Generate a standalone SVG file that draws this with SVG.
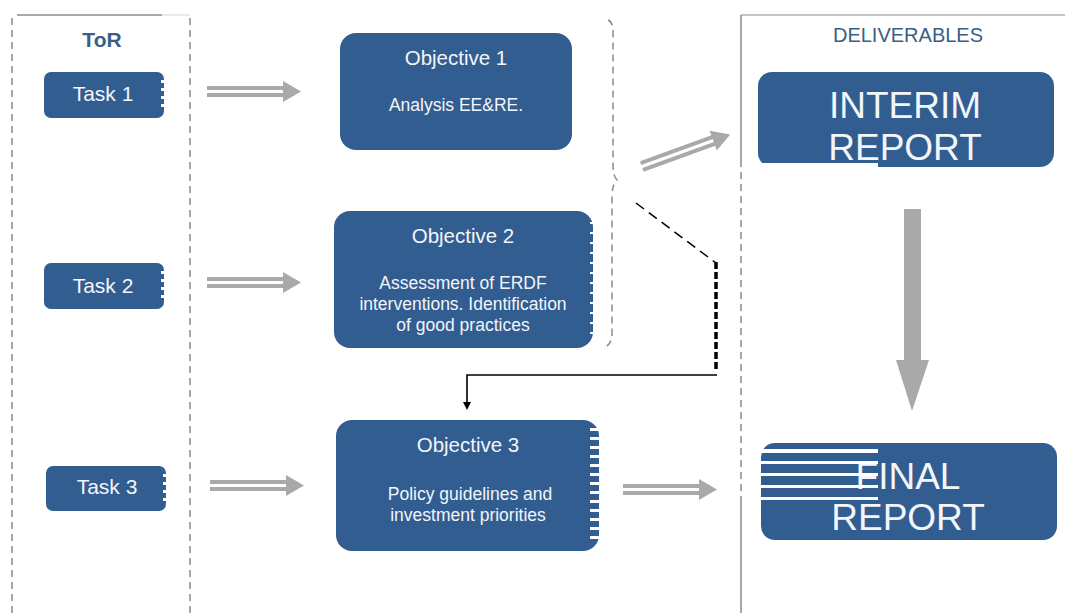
<svg xmlns="http://www.w3.org/2000/svg" width="1065" height="613" viewBox="0 0 1065 613">
<defs>
<style>
.node{fill:#325d90}
.t{font-family:"Liberation Sans",Arial,sans-serif;fill:#f2f5f9;text-anchor:middle}
.task{font-size:21px}
.obj{font-size:20.5px}
.sub{font-size:17.5px}
.big{font-size:37px}
.hdr{font-family:"Liberation Sans",Arial,sans-serif;text-anchor:middle;fill:#3a5f86}
.frame{stroke:#8a8a8a;stroke-width:1.5;fill:none;stroke-dasharray:7,5}
.stripe{fill:#ffffff}
.ga{fill:#a9a9a9}
</style>
<g id="dbl">
<rect x="0" y="-6" width="82" height="4" class="ga"/>
<rect x="0" y="1" width="82" height="4" class="ga"/>
<polygon points="76,-11 94,-0.5 76,10" class="ga"/>
</g>
<marker id="ah" markerWidth="8" markerHeight="8" refX="4" refY="4" orient="auto" markerUnits="userSpaceOnUse">
<path d="M0,0 L8,4 L0,8 Z" fill="#000"/>
</marker>
</defs>
<rect width="1065" height="613" fill="#ffffff"/>

<g id="frames">
<line x1="17" y1="15" x2="162" y2="15" stroke="#555" stroke-width="1.2"/>
<line x1="162" y1="15" x2="190" y2="15" stroke="#ddd" stroke-width="1.2"/>
<line x1="12" y1="18" x2="12" y2="613" class="frame"/>
<line x1="190" y1="18" x2="190" y2="613" class="frame"/>
<line x1="741" y1="15" x2="1065" y2="15" stroke="#8a8a8a" stroke-width="1.2"/>
<line x1="741" y1="15" x2="741" y2="160" stroke="#8a8a8a" stroke-width="1.5"/>
<line x1="741" y1="160" x2="741" y2="500" class="frame"/>
<line x1="741" y1="500" x2="741" y2="613" stroke="#8a8a8a" stroke-width="1.5"/>
<path d="M608,20 Q613,22 613,32 L613,165 Q613,176 617,180 Q612,185 612,196 L612,332 Q612,343 607,346" class="frame"/>
<text x="102" y="47" class="hdr" style="font-size:21px;font-weight:bold">ToR</text>
<text x="908" y="42" class="hdr" style="font-size:20px">DELIVERABLES</text>
</g>

<g id="task1">
<rect x="44" y="72" width="120" height="46" rx="7" class="node"/>
<rect x="161" y="80" width="4" height="3" class="stripe"/><rect x="161" y="88" width="4" height="3" class="stripe"/><rect x="161" y="96" width="4" height="3" class="stripe"/><rect x="161" y="104" width="4" height="3" class="stripe"/>
<text x="103" y="101" class="t task">Task 1</text>
</g>
<g id="task2">
<rect x="44" y="263" width="120" height="46" rx="7" class="node"/>
<rect x="161" y="271" width="4" height="3" class="stripe"/><rect x="161" y="279" width="4" height="3" class="stripe"/><rect x="161" y="287" width="4" height="3" class="stripe"/><rect x="161" y="295" width="4" height="3" class="stripe"/>
<text x="103" y="293" class="t task">Task 2</text>
</g>
<g id="task3">
<rect x="46" y="466" width="120" height="45" rx="7" class="node"/>
<rect x="163" y="474" width="4" height="3" class="stripe"/><rect x="163" y="482" width="4" height="3" class="stripe"/><rect x="163" y="490" width="4" height="3" class="stripe"/><rect x="163" y="498" width="4" height="3" class="stripe"/>
<text x="107" y="494" class="t task">Task 3</text>
</g>

<g id="objective1">
<rect x="340" y="33" width="232" height="117" rx="16" class="node"/>
<text x="456" y="65" class="t obj">Objective 1</text>
<text x="456" y="111" class="t sub">Analysis EE&amp;RE.</text>
</g>
<g id="objective2">
<rect x="334" y="211" width="259" height="137" rx="16" class="node"/>
<g class="stripe">
<rect x="590" y="222" width="3" height="2"/><rect x="590" y="232" width="3" height="2"/><rect x="590" y="242" width="3" height="2"/><rect x="590" y="252" width="3" height="2"/><rect x="590" y="262" width="3" height="2"/><rect x="590" y="272" width="3" height="2"/><rect x="590" y="282" width="3" height="2"/><rect x="590" y="292" width="3" height="2"/><rect x="590" y="302" width="3" height="2"/><rect x="590" y="312" width="3" height="2"/><rect x="590" y="322" width="3" height="2"/><rect x="590" y="332" width="3" height="2"/>
</g>
<text x="463" y="243" class="t obj">Objective 2</text>
<text x="463" y="289" class="t sub">Assessment of ERDF</text>
<text x="463" y="310" class="t sub">interventions. Identification</text>
<text x="463" y="331" class="t sub">of good practices</text>
</g>
<g id="objective3">
<rect x="336" y="420" width="263" height="131" rx="16" class="node"/>
<g class="stripe">
<rect x="590" y="428" width="10" height="3"/><rect x="590" y="437" width="10" height="3"/><rect x="590" y="446" width="10" height="3"/><rect x="590" y="455" width="10" height="3"/><rect x="590" y="464" width="10" height="3"/><rect x="590" y="473" width="10" height="3"/><rect x="590" y="482" width="10" height="3"/><rect x="590" y="491" width="10" height="3"/><rect x="590" y="500" width="10" height="3"/><rect x="590" y="509" width="10" height="3"/><rect x="590" y="518" width="10" height="3"/><rect x="590" y="527" width="10" height="3"/><rect x="590" y="536" width="10" height="3"/>
</g>
<text x="468" y="452" class="t obj">Objective 3</text>
<text x="470" y="500" class="t sub">Policy guidelines and</text>
<text x="468" y="521" class="t sub">investment priorities</text>
</g>

<g id="interim">
<rect x="758" y="72" width="296" height="95" rx="14" class="node"/>
<rect x="750" y="163" width="128" height="8" fill="#fff"/>
<text x="905" y="118" class="t big">INTERIM</text>
<text x="905" y="160" class="t big">REPORT</text>
</g>
<g id="final">
<rect x="761" y="443" width="296" height="97" rx="14" class="node"/>
<text x="908" y="489" class="t big">FINAL</text>
<text x="908" y="530" class="t big">REPORT</text>
<g class="stripe">
<rect x="761" y="449" width="117" height="4"/><rect x="761" y="461" width="117" height="3"/><rect x="761" y="473" width="117" height="3"/><rect x="761" y="485" width="117" height="3"/><rect x="761" y="497" width="117" height="3"/>
</g>
</g>

<g id="connectors">
<use href="#dbl" transform="translate(207,92)"/>
<use href="#dbl" transform="translate(207,283)"/>
<use href="#dbl" transform="translate(210,486)"/>
<use href="#dbl" transform="translate(623,490)"/>
<use href="#dbl" transform="translate(642,167) rotate(-20)"/>
<path d="M904,209 H921 V360 H929 L912,411 L896,360 H904 Z" class="ga"/>
<line x1="636" y1="203" x2="716" y2="263" stroke="#000" stroke-width="1.5" stroke-dasharray="10,6"/>
<line x1="716" y1="262" x2="716" y2="372" stroke="#000" stroke-width="3.5" stroke-dasharray="7,3"/>
<polyline points="717,375 467,375 467,406" fill="none" stroke="#000" stroke-width="1.6" marker-end="url(#ah)"/>
</g>
</svg>
